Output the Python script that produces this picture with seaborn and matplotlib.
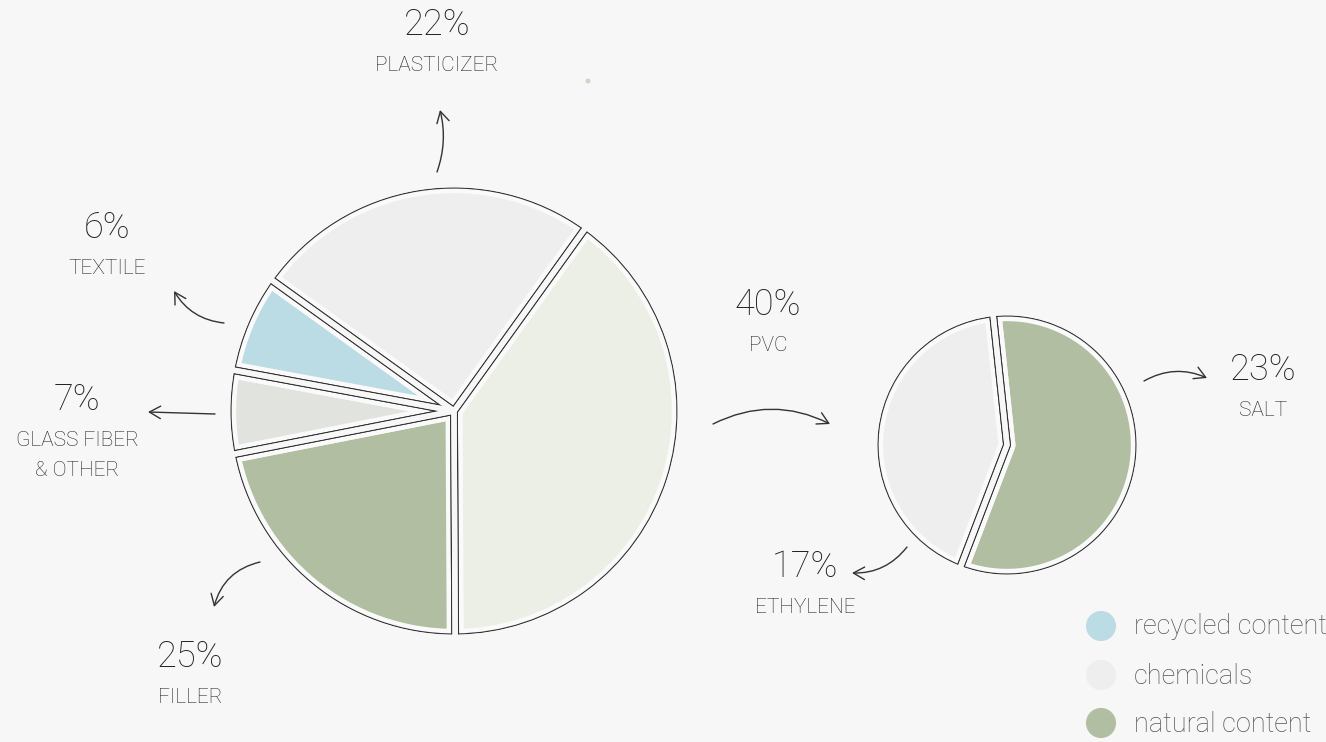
import matplotlib
matplotlib.use('Agg')
import matplotlib.pyplot as plt
from matplotlib.patches import Circle
import seaborn as sns
import pandas as pd

W, H = 1326, 742
BG = '#f7f7f7'
BAND = '#fafafa'
LINE = '#333333'
INK = '#222222'

# big pie: slice sizes as drawn (clockwise from PVC), printed labels
big_names = ['PVC', 'FILLER', 'GLASS FIBER\n& OTHER', 'TEXTILE', 'PLASTICIZER']
big_values = [40, 22, 6, 7, 25]
big_pct = ['40%', '25%', '7%', '6%', '22%']
big_colors = ['#ecefe6', '#b1bea2', '#e1e3de', '#bbdbe5', '#eeeeee']

# small pie (PVC breakdown)
small_names = ['SALT', 'ETHYLENE']
small_values = [23, 17]
small_pct = ['23%', '17%']
small_colors = ['#b1bea2', '#eeeeee']

legend_labels = ['recycled content', 'chemicals', 'natural content']
legend_colors = ['#bbdbe5', '#eeeeee', '#b1bea2']

sns.set_theme(style='white', rc={'axes.facecolor': BG, 'figure.facecolor': BG})
plt.rcParams['font.family'] = ['Roboto', 'DejaVu Sans']

fig = plt.figure(figsize=(W / 100, H / 100), dpi=100)
ax = fig.add_axes([0, 0, 1, 1])


def sketch_pie(values, colors, center, radius, start):
    # outline sits 3.3px inside the wedge radius
    r_line = radius - 3.3
    n = len(values)
    # fill + light band, dark outline, background gap
    passes = [(colors, BAND, 12.2, r_line),
              (['none'] * n, LINE, 5.6, r_line + 0.8),
              (['none'] * n, BG, 3.9, radius)]
    for fc, ec, lw, r_clip in passes:
        clip = Circle(center, r_clip, transform=ax.transData)
        wedges, _ = ax.pie(values, colors=fc, center=center, radius=radius,
                           startangle=start, counterclock=True,
                           wedgeprops=dict(edgecolor=ec, linewidth=lw, joinstyle='round'))
        for w in wedges:
            w.set_clip_path(clip)
            w.set_clip_on(True)


# y axis runs downwards, so visual clockwise == counterclock in data
sketch_pie(big_values, big_colors, (454, 411), 226.3, -54.3)
sketch_pie(small_values, small_colors, (1007, 445), 132.3, -96.1)

ax.set_xlim(0, W)
ax.set_ylim(H, 0)
ax.set_aspect('equal')
ax.axis('off')

# labels
pct_kw = dict(ha='center', va='center', fontsize=26, color=INK, fontweight='light')
name_kw = dict(ha='center', va='top', fontsize=15, color=INK, fontweight='light',
               linespacing=1.75)
label_pos = {
    'PVC': (768, 305), 'FILLER': (190, 657), 'GLASS FIBER\n& OTHER': (77, 400),
    'TEXTILE': (107, 228), 'PLASTICIZER': (437, 25),
    'SALT': (1263, 370), 'ETHYLENE': (805, 567),
}
for name, pct in zip(big_names + small_names, big_pct + small_pct):
    x, y = label_pos[name]
    ax.text(x, y, pct, **pct_kw)
    ax.text(x, y + 31, name, **name_kw)

# hand-drawn style arrows (tail -> head, curvature)
arrows = [
    ((437, 172), (440, 110), 0.15),
    ((224, 323), (174, 291), -0.25),
    ((215, 414), (148, 412), 0.0),
    ((260, 562), (214, 607), 0.3),
    ((713, 424), (830, 424), -0.25),
    ((1144, 381), (1207, 378), -0.25),
    ((907, 547), (852, 573), -0.25),
]
for tail, head, rad in arrows:
    ax.annotate('', xy=head, xytext=tail,
                arrowprops=dict(arrowstyle='->,head_length=0.8,head_width=0.45',
                                mutation_scale=10, color=LINE, lw=1,
                                shrinkA=0, shrinkB=0,
                                connectionstyle=f'arc3,rad={rad}'))

# small decorative dot
ax.add_patch(Circle((588, 81), 2.5, color='#cfd6c3', lw=0))

# legend
leg = pd.DataFrame({'label': legend_labels, 'x': [1101] * 3, 'y': [626, 675, 723]})
sns.scatterplot(data=leg, x='x', y='y', hue='label', palette=legend_colors,
                s=470, edgecolor='none', legend=False, ax=ax, clip_on=False)
for _, r in leg.iterrows():
    ax.text(1134, r['y'] + 1, r['label'], ha='left', va='center', fontsize=19.5,
            color='#555555', fontweight='light')
ax.set_xlim(0, W)
ax.set_ylim(H, 0)
ax.set_xlabel('')
ax.set_ylabel('')

fig.savefig('out.png', dpi=100, facecolor=BG)
